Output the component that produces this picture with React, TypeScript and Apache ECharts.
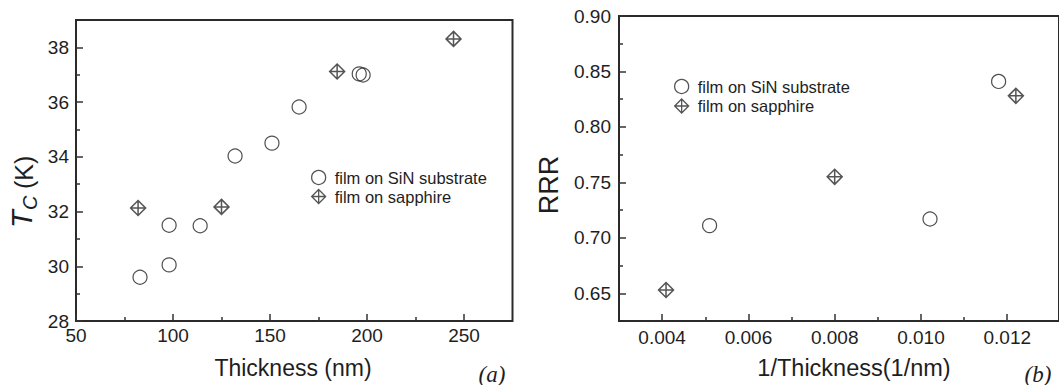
import React, { useEffect, useRef } from "react";
import * as echarts from "echarts";

// Panel (a): Tc vs thickness
const thicknessSiN = [83, 98, 98, 114, 132, 151, 165, 196, 198];
const tcSiN = [29.6, 30.05, 31.5, 31.48, 34.03, 34.5, 35.82, 37.03, 36.99];
const thicknessSapphire = [82, 125, 184.6, 244.6];
const tcSapphire = [32.13, 32.17, 37.12, 38.31];

// Panel (b): RRR vs 1/thickness
const invThicknessSiN = [0.0051, 0.01021, 0.0118];
const rrrSiN = [0.711, 0.717, 0.841];
const invThicknessSapphire = [0.00409, 0.008, 0.0122];
const rrrSapphire = [0.653, 0.755, 0.828];

// Tick values
const ticksXa = [50, 100, 150, 200, 250];
const minorXa = [75, 125, 175, 225];
const ticksYa = [28, 30, 32, 34, 36, 38];
const minorYa = [29, 31, 33, 35, 37];
const ticksXb = [0.004, 0.006, 0.008, 0.01, 0.012];
const minorXb = [0.005, 0.007, 0.009, 0.011];
const ticksYb = [0.65, 0.7, 0.75, 0.8, 0.85, 0.9];
const minorYb = [0.675, 0.725, 0.775, 0.825, 0.875];

const SERIES_SIN = "film on SiN substrate";
const SERIES_SAP = "film on sapphire";

const FONT = "'Liberation Sans', Arial, Helvetica, sans-serif";
const DIAMOND = "path://M0 -10 L10 0 L0 10 L-10 0 Z M0 -10 L0 10 M-10 0 L10 0";

const zip = (a: number[], b: number[]) => a.map((v, i) => [v, b[i]]);

function majorAxis(gridIndex: number, min: number, max: number, ticks: number[], fmt: (v: number) => string, margin: number) {
  return {
    type: "value",
    gridIndex,
    min,
    max,
    axisLine: { show: false, onZero: false },
    splitLine: { show: false },
    axisTick: {
      show: true,
      inside: true,
      length: 7,
      customValues: ticks,
      lineStyle: { color: "#333", width: 1.5 },
    },
    axisLabel: {
      show: true,
      customValues: ticks,
      formatter: (v: number) => fmt(v),
      color: "#1e1e1e",
      fontSize: 19,
      fontFamily: FONT,
      margin,
    },
  };
}

function minorAxis(gridIndex: number, min: number, max: number, ticks: number[], position: string) {
  return {
    type: "value",
    gridIndex,
    min,
    max,
    position,
    axisLine: { show: false, onZero: false },
    splitLine: { show: false },
    axisTick: {
      show: true,
      inside: true,
      length: 4,
      customValues: ticks,
      lineStyle: { color: "#333", width: 1.5 },
    },
    axisLabel: { show: false },
  };
}

const circleStyle = { color: "rgba(0,0,0,0)", borderColor: "#222", borderWidth: 1.2 };
const diamondStyle = { color: "rgba(0,0,0,0)", borderColor: "#2a2a2a", borderWidth: 1.5 };

function legend(left: number, top: number, gap: number) {
  return {
    orient: "vertical",
    left,
    top,
    itemWidth: 14,
    itemHeight: 14,
    itemGap: gap,
    textStyle: { fontSize: 16.5, fontFamily: FONT, color: "#1e1e1e", padding: [0, 0, 0, 4] },
    itemStyle: { color: "rgba(0,0,0,0)", borderColor: "#2a2a2a", borderWidth: 1.3 },
    selectedMode: false,
    data: [
      { name: SERIES_SIN, icon: "circle" },
      { name: SERIES_SAP, icon: DIAMOND },
    ],
  };
}

export default function App() {
  const ref = useRef<HTMLDivElement>(null);

  useEffect(() => {
    if (!ref.current) return;
    const chart = echarts.init(ref.current, undefined, { renderer: "svg" });
    const option: any = {
      animation: false,
      backgroundColor: "#ffffff",
      grid: [
        { left: 76, top: 20, width: 436.5, height: 301, show: true, borderColor: "#2a2a2a", borderWidth: 2, backgroundColor: "transparent", containLabel: false },
        { left: 619, top: 16, width: 454, height: 305, show: true, borderColor: "#2a2a2a", borderWidth: 2, backgroundColor: "transparent", containLabel: false },
      ],
      xAxis: [
        majorAxis(0, 50, 275, ticksXa, (v) => String(v), 5),
        minorAxis(0, 50, 275, minorXa, "bottom"),
        majorAxis(1, 0.003, 0.0132, ticksXb, (v) => v.toFixed(3), 7),
        minorAxis(1, 0.003, 0.0132, minorXb, "bottom"),
      ],
      yAxis: [
        majorAxis(0, 28, 39, ticksYa, (v) => String(v), 7),
        minorAxis(0, 28, 39, minorYa, "left"),
        majorAxis(1, 0.625, 0.9, ticksYb, (v) => v.toFixed(2), 8),
        minorAxis(1, 0.625, 0.9, minorYb, "left"),
      ],
      legend: [legend(306, 164, 2), legend(669, 73, 2.5)],
      series: [
        { type: "scatter", name: SERIES_SIN, xAxisIndex: 0, yAxisIndex: 0, symbol: "circle", symbolSize: 14, itemStyle: circleStyle, data: zip(thicknessSiN, tcSiN) },
        { type: "scatter", name: SERIES_SAP, xAxisIndex: 0, yAxisIndex: 0, symbol: DIAMOND, symbolSize: 15, itemStyle: diamondStyle, data: zip(thicknessSapphire, tcSapphire) },
        { type: "scatter", name: SERIES_SIN, xAxisIndex: 2, yAxisIndex: 2, symbol: "circle", symbolSize: 14, itemStyle: circleStyle, data: zip(invThicknessSiN, rrrSiN) },
        { type: "scatter", name: SERIES_SAP, xAxisIndex: 2, yAxisIndex: 2, symbol: DIAMOND, symbolSize: 15, itemStyle: diamondStyle, data: zip(invThicknessSapphire, rrrSapphire) },
      ],
      graphic: [
        // (a) y-axis title: T_C (K)
        {
          type: "group",
          x: 36,
          y: 228,
          rotation: Math.PI / 2,
          children: [
            { type: "text", x: 0, y: 0, style: { text: "T", font: `italic 29px ${FONT}`, fill: "#1e1e1e", align: "left", verticalAlign: "bottom" } },
            { type: "text", x: 18, y: 4, style: { text: "C", font: `italic 20px ${FONT}`, fill: "#1e1e1e", align: "left", verticalAlign: "bottom" } },
            { type: "text", x: 32, y: 0, style: { text: " (K)", font: `25px ${FONT}`, fill: "#1e1e1e", align: "left", verticalAlign: "bottom" } },
          ],
        },
        { type: "text", x: 293, y: 368, style: { text: "Thickness (nm)", font: `23px ${FONT}`, fill: "#1e1e1e", align: "center", verticalAlign: "middle" } },
        { type: "text", x: 492, y: 374, style: { text: "(a)", font: `italic 23px 'Liberation Serif', 'Times New Roman', serif`, fill: "#1e1e1e", align: "center", verticalAlign: "middle" } },
        { type: "text", x: 549, y: 185, rotation: Math.PI / 2, style: { text: "RRR", font: `27px ${FONT}`, fill: "#1e1e1e", align: "center", verticalAlign: "middle" } },
        { type: "text", x: 854, y: 368, style: { text: "1/Thickness(1/nm)", font: `23.5px ${FONT}`, fill: "#1e1e1e", align: "center", verticalAlign: "middle" } },
        { type: "text", x: 1038, y: 374, style: { text: "(b)", font: `italic 23px 'Liberation Serif', 'Times New Roman', serif`, fill: "#1e1e1e", align: "center", verticalAlign: "middle" } },
      ],
    };
    chart.setOption(option);
    return () => chart.dispose();
  }, []);

  return <div ref={ref} style={{ position: "absolute", left: 0, top: 0, width: 1059, height: 385 }} />;
}
